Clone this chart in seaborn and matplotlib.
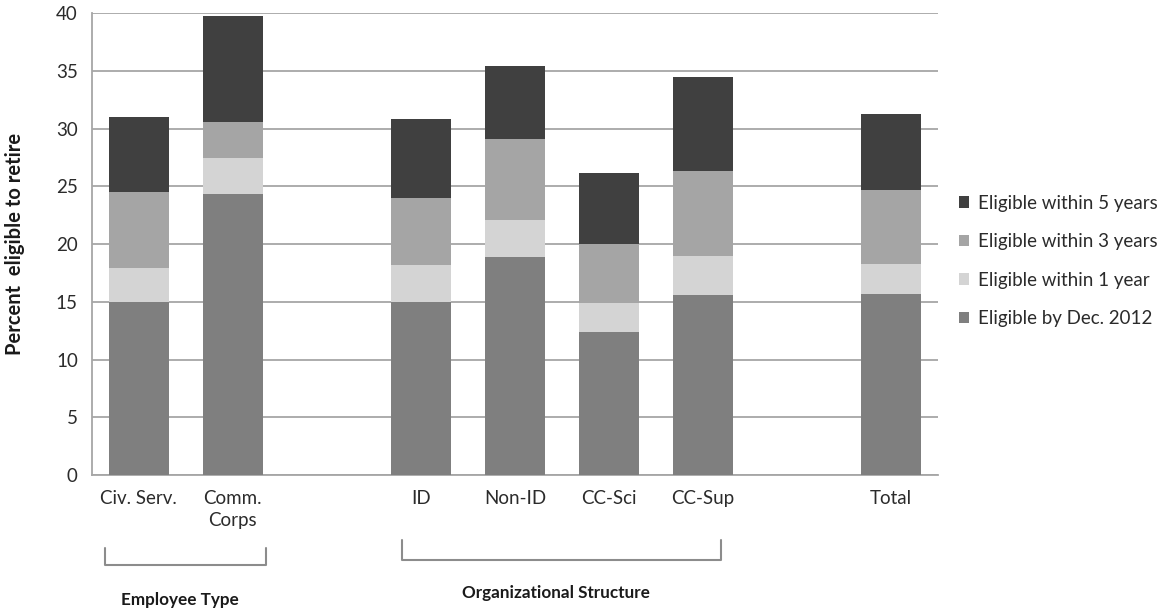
import numpy as np
import pandas as pd
import matplotlib
matplotlib.use("Agg")
import matplotlib.pyplot as plt
import matplotlib.transforms as mtransforms
from matplotlib.patches import Patch
import seaborn as sns

# Groups shown on the x axis (blank slots separate the sections)
groups = ["Civ. Serv.", "Comm.\nCorps", "ID", "Non-ID", "CC-Sci", "CC-Sup", "Total"]
order = ["Civ. Serv.", "Comm.\nCorps", " ", "ID", "Non-ID", "CC-Sci", "CC-Sup", "  ", "Total"]

# Percent of staff in each eligibility band (stacked from the bottom up)
eligible_dec_2012 = [15.0, 24.3, 15.0, 18.9, 12.4, 15.6, 15.7]
within_1_year = [2.9, 3.2, 3.2, 3.2, 2.5, 3.4, 2.6]
within_3_years = [6.6, 3.1, 5.8, 7.0, 5.1, 7.3, 6.4]
within_5_years = [6.5, 9.2, 6.8, 6.3, 6.2, 8.2, 6.6]

series_names = ["Eligible by Dec. 2012", "Eligible within 1 year",
                "Eligible within 3 years", "Eligible within 5 years"]
series_colors = ["#7f7f7f", "#d4d4d4", "#a5a5a5", "#404040"]

y_ticks = [0, 5, 10, 15, 20, 25, 30, 35, 40]

sns.set_theme(style="white")
plt.rcParams["font.family"] = ["Lato", "DejaVu Sans"]

values = np.array([eligible_dec_2012, within_1_year, within_3_years, within_5_years])
cumulative = np.cumsum(values, axis=0)

fig = plt.figure(figsize=(11.7, 6.12), dpi=100)
ax = fig.add_axes([0.0784, 0.2239, 0.7233, 0.7544])

# Draw the stack from the tallest layer down so each lower band sits on top
for i in range(len(series_names) - 1, -1, -1):
    df = pd.DataFrame({"group": groups, "value": cumulative[i]})
    sns.barplot(data=df, x="group", y="value", order=order, color=series_colors[i],
                saturation=1, width=0.64, errorbar=None, ax=ax, zorder=3,
                edgecolor="none", linewidth=0)

ax.set_xlim(-0.5, 8.5)
ax.set_ylim(0, 40)
ax.set_yticks(y_ticks)
ax.grid(axis="y", color="#a6a6a6", linewidth=1.3, zorder=0)
ax.set_axisbelow(True)
for side in ["top", "right"]:
    ax.spines[side].set_visible(False)
for side in ["left", "bottom"]:
    ax.spines[side].set_color("#a6a6a6")
    ax.spines[side].set_linewidth(1.3)

ax.tick_params(axis="both", length=0, labelsize=13.5, colors="#2b2b2b")
ax.tick_params(axis="x", pad=11)
ax.tick_params(axis="y", pad=10)
for lbl in ax.get_xticklabels():
    lbl.set_linespacing(1.35)
ax.set_xlabel("")
ax.set_ylabel("Percent  eligible to retire", fontsize=14.5, fontweight="bold", color="#1a1a1a")
ax.yaxis.set_label_coords(-0.079, 0.5)

# Section brackets beneath the category labels
trans = mtransforms.blended_transform_factory(ax.transData, ax.transAxes)
brackets = [
    (-0.36, 1.35, -0.158, -0.195, "Employee Type", 0.44, -0.271),
    (2.80, 6.19, -0.141, -0.184, "Organizational Structure", 4.44, -0.256),
]
for x0, x1, ytop, ybot, label, xt, yt in brackets:
    ax.plot([x0, x0, x1, x1], [ytop, ybot, ybot, ytop], transform=trans,
            color="#8c8c8c", linewidth=1.5, clip_on=False)
    ax.text(xt, yt, label, transform=trans, ha="center", va="center",
            fontsize=12.3, fontweight="bold", color="#1a1a1a")

handles = [Patch(facecolor=series_colors[i], edgecolor="none", label=series_names[i])
           for i in range(len(series_names) - 1, -1, -1)]
fig.legend(handles=handles, loc="upper left", bbox_to_anchor=(0.8195, 0.682),
           frameon=False, fontsize=13.5, handlelength=0.55, handleheight=0.55,
           handletextpad=0.45, labelspacing=1.15, borderpad=0, borderaxespad=0,
           labelcolor="#2b2b2b")

fig.savefig("out.png", dpi=100)
